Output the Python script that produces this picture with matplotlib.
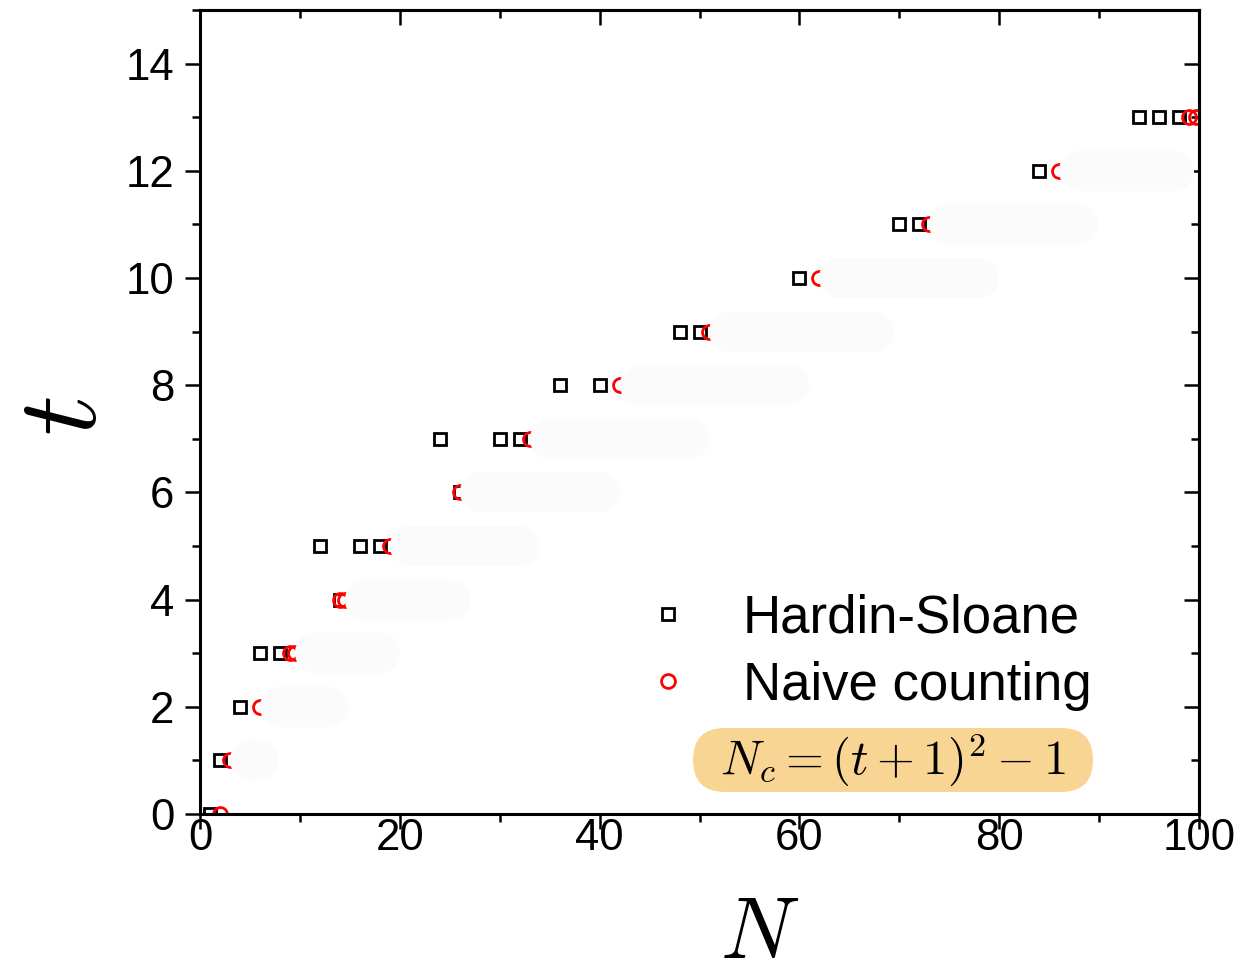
import matplotlib
matplotlib.use("Agg")
import matplotlib.pyplot as plt
from matplotlib.ticker import MultipleLocator
from matplotlib.patches import FancyBboxPatch

# ---- data ----
hs_N = [1, 2, 4, 6, 8, 14, 12, 16, 18, 26, 24, 30, 32, 36, 40, 48, 50, 60, 70, 72, 84, 94, 96, 98]
hs_t = [0, 1, 2, 3, 3, 4, 5, 5, 5, 6, 7, 7, 7, 8, 8, 9, 9, 10, 11, 11, 12, 13, 13, 13]

nc_N = [2, 3, 6, 9, 9.5, 14, 14.5, 19, 26, 33, 42, 51, 62, 73, 86, 99, 99.7]
nc_t = [0, 1, 2, 3, 3, 4, 4, 5, 6, 7, 8, 9, 10, 11, 12, 13, 13]

# faint erased strokes: (t, N start, N end)
blob_t = [1, 2, 3, 4, 5, 6, 7, 8, 9, 10, 11, 12]
blob_start = [3, 6, 9.5, 14.5, 19, 26, 33, 42, 51, 62, 73, 86]
blob_end = [7.8, 14.8, 20, 27, 34, 42, 51, 61, 69.5, 80, 90, 99.5]

xlim = (0, 100)
ylim = (0, 15)

plt.rcParams['font.family'] = ['Liberation Sans', 'DejaVu Sans']
plt.rcParams['mathtext.fontset'] = 'cm'

W, H = 1243, 976
fig = plt.figure(figsize=(W / 100, H / 100), dpi=100)
ax = fig.add_axes([200 / W, 1 - 814 / H, 999 / W, 804 / H])

ax.plot(hs_N, hs_t, ls='none', marker='s', ms=9, mfc='none', mec='black',
        mew=2.0, label='Hardin-Sloane', zorder=3)
ax.plot(nc_N, nc_t, ls='none', marker='o', ms=10, mfc='none', mec='red',
        mew=2.0, label='Naive counting', zorder=3)

# blobs (drawn over the circles)
px = 999 / 100.0  # pixels per N unit (for cap offset)
cap = 20 / px
for t, s, e in zip(blob_t, blob_start, blob_end):
    ax.plot([s + cap, max(e - cap, s + cap + 0.1)], [t, t], color='#fbfbfb',
            lw=29, solid_capstyle='round', zorder=4)

ax.set_xlim(*xlim)
ax.set_ylim(*ylim)
ax.xaxis.set_major_locator(MultipleLocator(20))
ax.xaxis.set_minor_locator(MultipleLocator(10))
ax.yaxis.set_major_locator(MultipleLocator(2))
ax.yaxis.set_minor_locator(MultipleLocator(1))
ax.set_yticks(range(0, 15, 2))

for sp in ax.spines.values():
    sp.set_linewidth(2.2)
    sp.set_zorder(5)

ax.tick_params(which='major', direction='out', length=11, width=1.8,
               labelsize=31.5)
ax.tick_params(which='minor', direction='out', length=5.5, width=1.8)
ax.tick_params(axis='x', which='major', pad=-8)
ax.tick_params(axis='y', which='major', pad=7.5)

secx = ax.secondary_xaxis('top')
secx.xaxis.set_major_locator(MultipleLocator(20))
secx.xaxis.set_minor_locator(MultipleLocator(10))
secx.tick_params(which='major', direction='in', length=11, width=1.8, labeltop=False)
secx.tick_params(which='minor', direction='in', length=5.5, width=1.8)
secx.spines['top'].set_linewidth(2.2)

secy = ax.secondary_yaxis('right')
secy.yaxis.set_major_locator(MultipleLocator(2))
secy.yaxis.set_minor_locator(MultipleLocator(1))
secy.tick_params(which='major', direction='in', length=11, width=1.8, labelright=False)
secy.tick_params(which='minor', direction='in', length=5.5, width=1.8)
secy.spines['right'].set_linewidth(2.2)

ax.set_xlabel(r'$N$', fontsize=63, va='baseline')
ax.xaxis.set_label_coords(0.5606, -0.1795)
ax.set_ylabel(r'$t$', fontsize=82)
ax.yaxis.set_label_coords(-0.08, 0.495)

leg = ax.legend(loc='upper left', bbox_to_anchor=(0.431, 0.3), frameon=False,
                fontsize=38, handlelength=0.6, handletextpad=1.13,
                labelspacing=0.32, borderaxespad=0)

box = FancyBboxPatch((0.4935, 0.0274), 0.4004, 0.0796,
                     boxstyle='round,pad=0,rounding_size=0.032',
                     mutation_aspect=999 / 804, transform=ax.transAxes,
                     fc='#f9d594', ec='none', zorder=5, clip_on=False)
ax.add_patch(box)
ax.text(0.6937, 0.0672, r'$N_c = (t+1)^2 - 1$', transform=ax.transAxes,
        fontsize=35, ha='center', va='center', zorder=6)

fig.savefig('out.png', dpi=100)
